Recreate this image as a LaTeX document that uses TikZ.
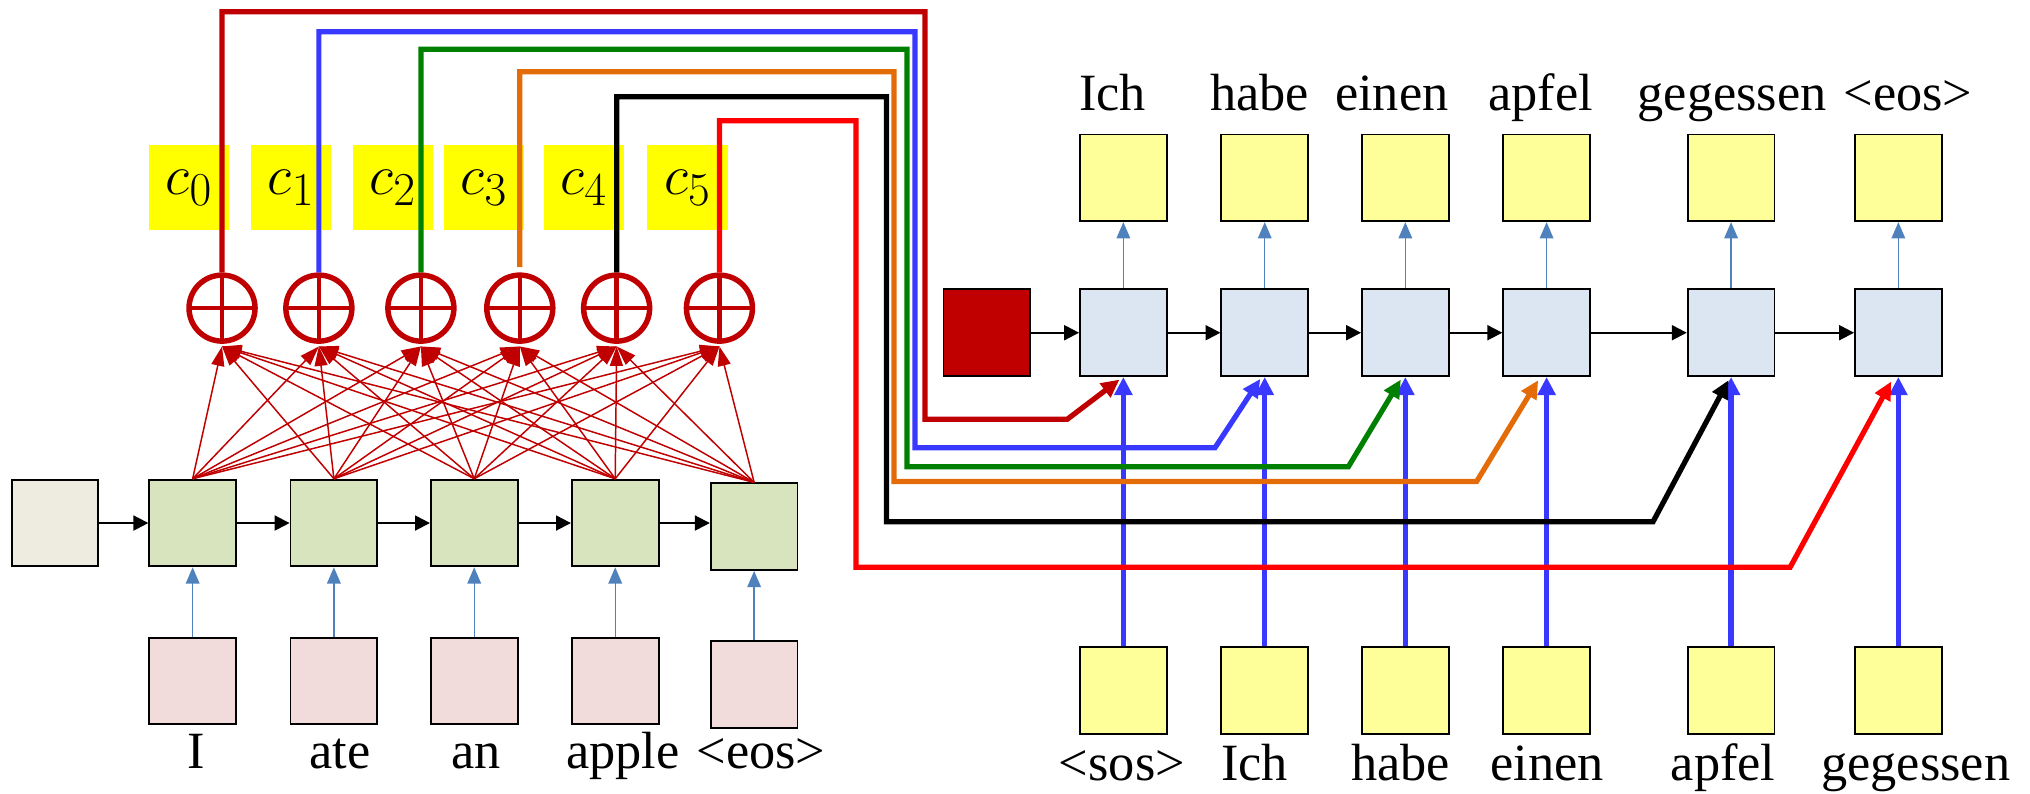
\documentclass[tikz,border=0pt]{standalone}
\usepackage{fontspec}
\setmainfont{Liberation Serif}
\usetikzlibrary{arrows.meta}

\definecolor{ctxdarkred}{HTML}{C00000}
\definecolor{ctxblue}{HTML}{3838FF}
\definecolor{ctxgreen}{HTML}{008000}
\definecolor{ctxorange}{HTML}{E36C09}
\definecolor{ctxred}{HTML}{FF0000}
\definecolor{steel}{HTML}{4F81BD}
\definecolor{initgray}{HTML}{EEECE1}
\definecolor{encgreen}{HTML}{D7E4BD}
\definecolor{inpink}{HTML}{F2DCDB}
\definecolor{decblue}{HTML}{DCE6F2}
\definecolor{outyellow}{HTML}{FFFF99}
\definecolor{labyellow}{HTML}{FFFF00}

\tikzset{
  cell/.style={draw,line width=0.8pt,minimum width=13.4mm,minimum height=13.4mm,inner sep=0},
  word/.style={anchor=base,inner sep=0,font=\fontsize{23}{27}\selectfont},
  clabel/.style={fill=labyellow,minimum width=12.4mm,minimum height=13.2mm,inner sep=0,
    font=\fontsize{28}{32}\selectfont},
  sumop/.style={circle,draw=ctxdarkred,line width=2.4pt,minimum size=10.2mm,inner sep=0,
    path picture={\draw[ctxdarkred,line width=1.9pt]
      (path picture bounding box.north)--(path picture bounding box.south)
      (path picture bounding box.west)--(path picture bounding box.east);}},
  fanline/.style={ctxdarkred,line width=0.65pt,-{Triangle[length=3mm,width=2mm]}},
  recur/.style={line width=0.9pt,-{Triangle[length=2.3mm,width=2.3mm]}},
  embed/.style={steel,line width=0.6pt,-{Triangle[length=2.5mm,width=2.1mm]}},
  feed/.style={ctxblue,line width=2.4pt,-{Triangle[length=2.8mm,width=2.7mm]}},
  route/.style={line width=2.3pt,-{Triangle[length=2.8mm,width=2.6mm]}}
}

\begin{document}
\begin{tikzpicture}[x=0.2mm,y=-0.2mm]
  \useasboundingbox (0,0) rectangle (1568,613);

  % encoder
  \node[cell,fill=initgray] (e0) at (42.5,404) {};
  \node[cell,fill=encgreen] (enc1) at (148.8,404) {};
  \node[cell,fill=encgreen] (enc2) at (257.9,404) {};
  \node[cell,fill=encgreen] (enc3) at (366.3,404) {};
  \node[cell,fill=encgreen] (enc4) at (475.2,404) {};
  \node[cell,fill=encgreen] (enc5) at (582.5,406.8) {};
  \node[cell,fill=inpink] (in1) at (148.8,526) {};
  \node[cell,fill=inpink] (in2) at (257.9,526) {};
  \node[cell,fill=inpink] (in3) at (366.3,526) {};
  \node[cell,fill=inpink] (in4) at (475.2,526) {};
  \node[cell,fill=inpink] (in5) at (582.5,528.5) {};
  \node[word] (src1) at (151.7,593.5) {I};
  \node[word] (src2) at (262.6,593.5) {ate};
  \node[word] (src3) at (368,593.5) {an};
  \node[word] (src4) at (481,593.5) {apple};
  \node[word] (src5) at (587.8,593.5) {<eos>};

  \draw[recur] (e0) -- (enc1);
  \draw[recur] (enc1) -- (enc2);
  \draw[recur] (enc2) -- (enc3);
  \draw[recur] (enc3) -- (enc4);
  \draw[recur] (enc4.east) -- (enc4.east -| enc5.west);
  \foreach \i in {1,...,5}
    \draw[embed] (in\i) -- (enc\i);

  % attention sums and contexts
  \node[clabel] (c0) at (146,145) {$c_0$};
  \node[clabel] (c1) at (225,145) {$c_1$};
  \node[clabel] (c2) at (303.5,145) {$c_2$};
  \node[clabel] (c3) at (374,145) {$c_3$};
  \node[clabel] (c4) at (451,145) {$c_4$};
  \node[clabel] (c5) at (531,145) {$c_5$};
  \node[sumop] (sum0) at (171.5,238) {};
  \node[sumop] (sum1) at (246.3,238) {};
  \node[sumop] (sum2) at (325.1,238) {};
  \node[sumop] (sum3) at (401.5,238) {};
  \node[sumop] (sum4) at (476.3,238) {};
  \node[sumop] (sum5) at (555.7,238) {};

  \foreach \i in {1,...,5}
    \foreach \j in {0,...,5}
      \draw[fanline] (enc\i.north) -- ([yshift=-0.4mm]sum\j.south);

  % decoder
  \node[cell,fill=ctxdarkred] (d0) at (762.3,257) {};
  \node[cell,fill=decblue] (dec1) at (867.7,257) {};
  \node[cell,fill=decblue] (dec2) at (976.9,257) {};
  \node[cell,fill=decblue] (dec3) at (1085.5,257) {};
  \node[cell,fill=decblue] (dec4) at (1194.6,257) {};
  \node[cell,fill=decblue] (dec5) at (1337.1,257) {};
  \node[cell,fill=decblue] (dec6) at (1466.3,257) {};
  \node[cell,fill=outyellow] (out1) at (867.7,137.4) {};
  \node[cell,fill=outyellow] (out2) at (976.9,137.4) {};
  \node[cell,fill=outyellow] (out3) at (1085.5,137.4) {};
  \node[cell,fill=outyellow] (out4) at (1194.6,137.4) {};
  \node[cell,fill=outyellow] (out5) at (1337.1,137.4) {};
  \node[cell,fill=outyellow] (out6) at (1466.3,137.4) {};
  \node[cell,fill=outyellow] (din1) at (867.7,533.3) {};
  \node[cell,fill=outyellow] (din2) at (976.9,533.3) {};
  \node[cell,fill=outyellow] (din3) at (1085.5,533.3) {};
  \node[cell,fill=outyellow] (din4) at (1194.6,533.3) {};
  \node[cell,fill=outyellow] (din5) at (1337.1,533.3) {};
  \node[cell,fill=outyellow] (din6) at (1466.3,533.3) {};
  \node[word] (tgt1) at (859.4,85) {Ich};
  \node[word] (tgt2) at (973,85) {habe};
  \node[word] (tgt3) at (1075,85) {einen};
  \node[word] (tgt4) at (1190,85) {apfel};
  \node[word] (tgt5) at (1338,85) {gegessen};
  \node[word] (tgt6) at (1473.7,85) {<eos>};
  \node[word] (prev1) at (866.6,602.5) {<sos>};
  \node[word] (prev2) at (969,602.5) {Ich};
  \node[word] (prev3) at (1082,602.5) {habe};
  \node[word] (prev4) at (1195,602.5) {einen};
  \node[word] (prev5) at (1331,602.5) {apfel};
  \node[word] (prev6) at (1479.7,602.5) {gegessen};

  \draw[recur] (d0) -- (dec1);
  \draw[recur] (dec1) -- (dec2);
  \draw[recur] (dec2) -- (dec3);
  \draw[recur] (dec3) -- (dec4);
  \draw[recur] (dec4) -- (dec5);
  \draw[recur] (dec5) -- (dec6);
  \foreach \i in {1,...,6}{
    \draw[embed] (dec\i) -- (out\i);
    \draw[feed] (din\i) -- (dec\i);
  }

  % context routes
  \draw[route,ctxdarkred] (sum0.north) |- (714.5,9) |- (824.3,323.9)
    -- ([xshift=-0.6mm,yshift=-0.4mm]dec1.south);
  \draw[route,ctxblue] (sum1.north) |- (706.7,24.5) |- (938.5,345.8)
    -- ([xshift=-0.7mm,yshift=-0.3mm]dec2.south);
  \draw[route,ctxgreen] (sum2.north) |- (700.5,38) |- (1041.5,360.5)
    -- ([xshift=-0.7mm,yshift=-0.4mm]dec3.south);
  \draw[route,ctxorange] ([yshift=0.8mm]sum3.north) |- (690.6,55.4) |- (1140.5,372)
    -- ([xshift=-1.3mm,yshift=-0.5mm]dec4.south);
  \draw[route,black] (sum4.north) |- (684.7,74.7) |- (1276.8,403)
    -- ([xshift=-0.4mm,yshift=-0.5mm]dec5.south);
  \draw[route,ctxred] (sum5.north) |- (661.1,93.2) |- (1382.7,438.2)
    -- ([xshift=-1.1mm,yshift=-0.7mm]dec6.south);
\end{tikzpicture}
\end{document}
